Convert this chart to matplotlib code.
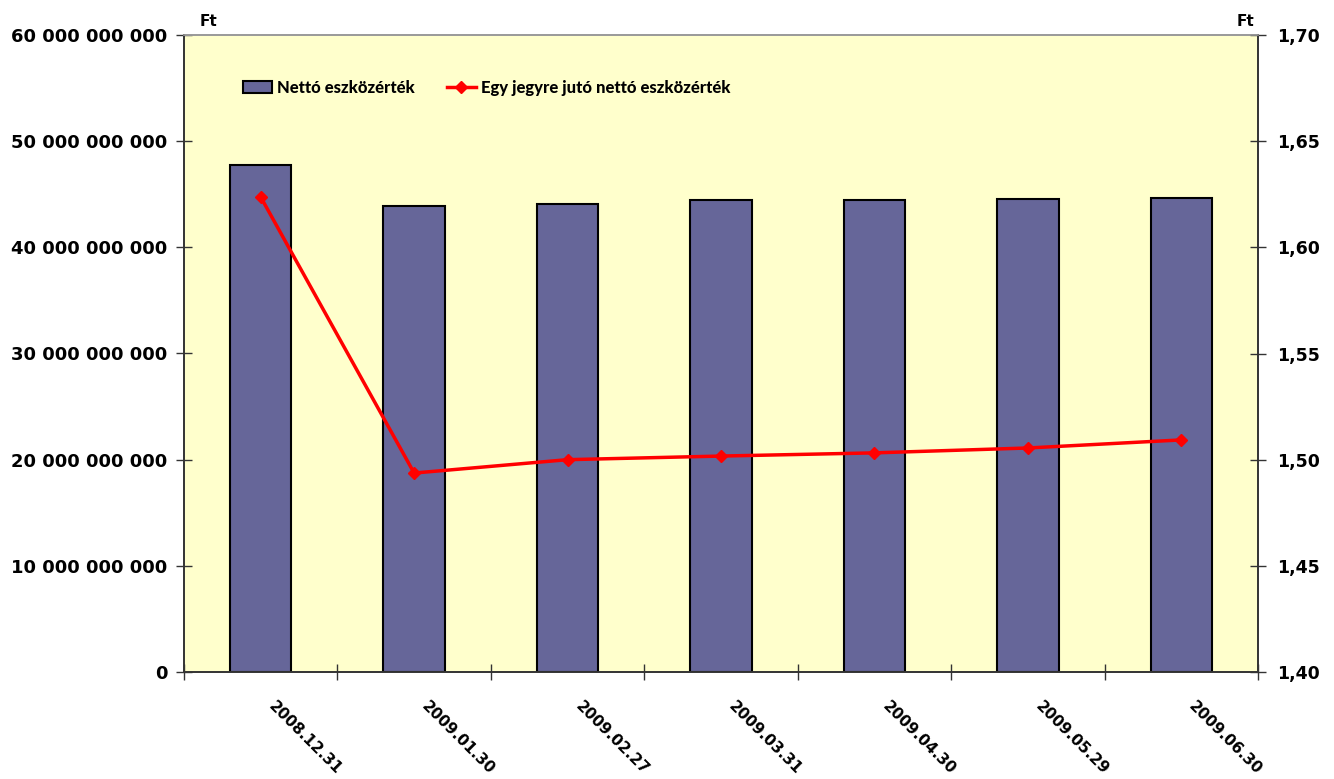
import matplotlib.pyplot as plt
import numpy as np
from matplotlib.ticker import FuncFormatter, FixedLocator

dates = ['2008.12.31', '2009.01.30', '2009.02.27', '2009.03.31',
         '2009.04.30', '2009.05.29', '2009.06.30']
netto = [47.75e9, 43.9e9, 44.08e9, 44.42e9, 44.46e9, 44.55e9, 44.65e9]
per_unit = [1.6237, 1.4937, 1.5000, 1.5017, 1.5032, 1.5055, 1.5093]

plt.rcParams['font.family'] = ['DejaVu Sans']
plt.rcParams['font.weight'] = 'bold'

fig = plt.figure(figsize=(13.34, 7.79), dpi=100)
ax = fig.add_axes([184 / 1334, 1 - 672 / 779, 1074 / 1334, 637 / 779])
ax.set_facecolor('#FFFFCC')

x = np.arange(len(dates))
bars = ax.bar(x, netto, width=0.40, color='#666699', edgecolor='black',
              linewidth=1.5, label='Nettó eszközérték', zorder=2)
ax.set_xlim(-0.5, len(dates) - 0.5)
ax.set_ylim(0, 60e9)
ax.yaxis.set_major_locator(FixedLocator(np.arange(0, 60e9 + 1, 10e9)))
ax.yaxis.set_major_formatter(FuncFormatter(lambda v, p: f'{int(v):,}'.replace(',', ' ')))
ax.set_xticks(np.arange(-0.5, len(dates), 1.0))
ax.set_xticklabels([])
ax.tick_params(axis='x', direction='inout', length=12, width=1, color='#333333')
ax.tick_params(axis='y', direction='inout', length=12, width=1, color='#333333',
               labelsize=13, pad=6)
for lab in ax.get_yticklabels():
    lab.set_fontweight('bold')
for i, d in enumerate(dates):
    ax.text(i + 0.1, -0.042, d, transform=ax.get_xaxis_transform(),
            rotation=-45, rotation_mode='anchor', ha='left', va='top',
            fontsize=11, fontweight='bold')

ax2 = ax.twinx()
line, = ax2.plot(x, per_unit, color='#FF0000', linewidth=2.5, marker='D',
                 markersize=6.5, label='Egy jegyre jutó nettó eszközérték', zorder=3)
ax2.set_ylim(1.40, 1.70)
ax2.yaxis.set_major_locator(FixedLocator(np.arange(1.40, 1.7001, 0.05)))
ax2.yaxis.set_major_formatter(FuncFormatter(lambda v, p: f'{v:.2f}'.replace('.', ',')))
ax2.tick_params(axis='y', direction='inout', length=12, width=1, color='#333333',
                labelsize=12.5, pad=8)
for lab in ax2.get_yticklabels():
    lab.set_fontweight('bold')

for a in (ax, ax2):
    a.spines['top'].set_color('#999999')
    a.spines['left'].set_color('#333333')
    a.spines['right'].set_color('#333333')
    a.spines['bottom'].set_color('#333333')
    for s in a.spines.values():
        s.set_linewidth(1.2)

ax.text(0.015, 1.01, 'Ft', transform=ax.transAxes, ha='left', va='bottom',
        fontsize=11, fontweight='bold')
ax.text(0.997, 1.01, 'Ft', transform=ax.transAxes, ha='right', va='bottom',
        fontsize=11, fontweight='bold')

leg = ax.legend([bars, line], ['Nettó eszközérték', 'Egy jegyre jutó nettó eszközérték'],
                loc='center left', bbox_to_anchor=(0.041, 0.917), ncol=2, frameon=False,
                prop={'family': ['Lato', 'DejaVu Sans'], 'weight': 'black', 'size': 12},
                handlelength=1.75, columnspacing=1.9, handletextpad=0.3)

fig.savefig('out.png', dpi=100)
